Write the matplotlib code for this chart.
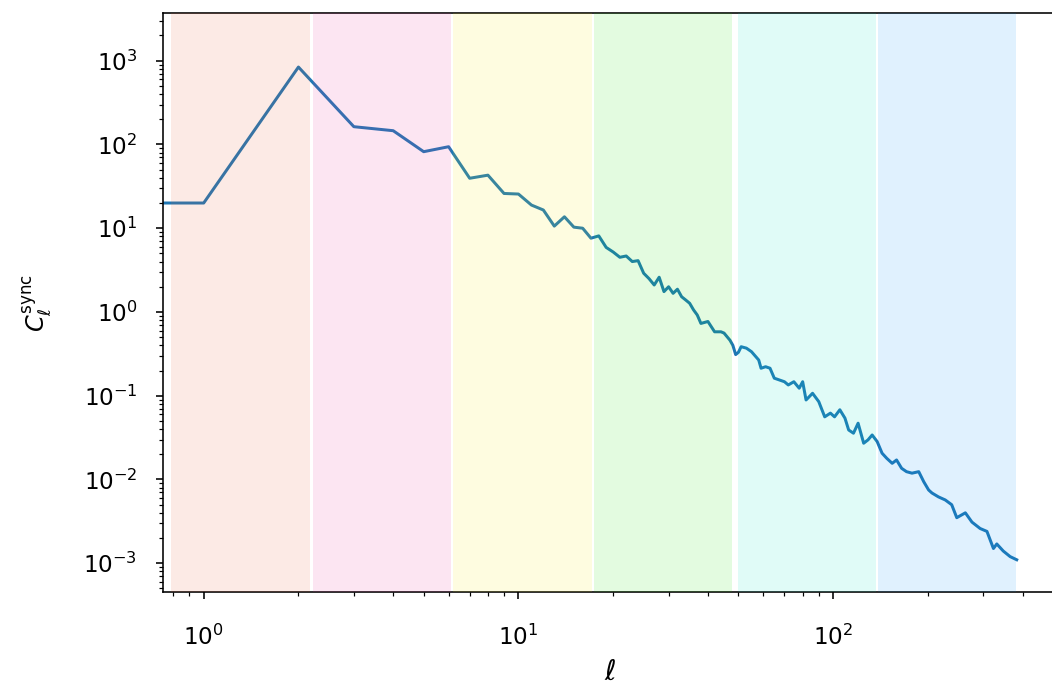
import numpy as np
import matplotlib
matplotlib.use("Agg")
import matplotlib.pyplot as plt

# multipoles and synchrotron power spectrum
ell = [0, 1, 2, 3, 4, 5, 6, 7, 8, 9, 10, 11, 12, 13, 14, 15, 16, 17, 18, 19, 20,
       21, 22, 23, 24, 25, 26, 27, 28, 29, 30, 31, 32, 33, 34, 35, 36, 37, 38, 39,
       40, 42, 44, 45, 47, 48, 49, 50, 51, 53, 55, 58, 59, 61, 63, 65, 70, 72, 75,
       78, 80, 82, 86, 90, 94, 98, 101, 105, 109, 112, 116, 120, 125, 129, 133,
       138, 143, 148, 154, 159, 165, 171, 178, 187, 194, 201, 206, 216, 227, 238,
       247, 263, 276, 293, 308, 323, 331, 347, 365, 383]
cl_sync = [20, 20, 840, 163, 146, 82, 94, 39.5, 43, 26, 25.6, 18.9, 16.5, 10.6, 13.7,
           10.3, 10.0, 7.6, 8.1, 5.9, 5.2, 4.5, 4.66, 4.0, 4.1, 2.9, 2.5, 2.1, 2.6,
           1.75, 2.0, 1.67, 1.87, 1.52, 1.39, 1.27, 1.06, 0.92, 0.73, 0.75, 0.77,
           0.58, 0.58, 0.56, 0.46, 0.40, 0.31, 0.33, 0.385, 0.37, 0.336, 0.267,
           0.213, 0.222, 0.213, 0.162, 0.147, 0.1345, 0.147, 0.123, 0.147, 0.089,
           0.107, 0.085, 0.056, 0.062, 0.056, 0.068, 0.054, 0.039, 0.0357, 0.047,
           0.0271, 0.0297, 0.034, 0.0283, 0.0206, 0.0179, 0.0156, 0.0171, 0.0136,
           0.0124, 0.0119, 0.0124, 0.0094, 0.0075, 0.0069, 0.0062, 0.0057, 0.0050,
           0.0035, 0.0040, 0.0031, 0.0026, 0.0024, 0.0015, 0.0017, 0.0014, 0.0012,
           0.0011]

# ell ranges of the shaded bins
band_lo = [0.79, 2.22, 6.2, 17.4, 49.8, 139]
band_hi = [2.18, 6.1, 17.1, 47.6, 137, 381]
band_colors = ['#ee5a2f', '#ee2f9b', '#f7ee05', '#1ee600', '#05e6c5', '#0090f7']

fig = plt.figure(figsize=(1052/144, 683/144), dpi=144)
ax = fig.add_axes([0.1552, 0.1328, 0.8495, 0.8477])

ax.plot(ell, cl_sync, lw=1.5)
for lo, hi, c in zip(band_lo, band_hi, band_colors):
    ax.axvspan(lo, hi, color=c, alpha=0.12, lw=0, zorder=3)

ax.set_xscale('log')
ax.set_yscale('log')
ax.set_xlim(0.744, 514)
ax.set_ylim(4.5e-4, 3.68e3)
ax.tick_params(axis='both', which='major', labelsize=11.5)
ax.tick_params(axis='x', pad=12.5)
ax.tick_params(axis='y', pad=9.5)
ax.set_xlabel(r'$\ell$', fontsize=14, labelpad=4)
ax.set_ylabel(r'$C_\ell^{\rm sync}$', fontsize=12, labelpad=15)

#note: reference is cropped on the right and bottom
fig.savefig('out.png', dpi=144)
